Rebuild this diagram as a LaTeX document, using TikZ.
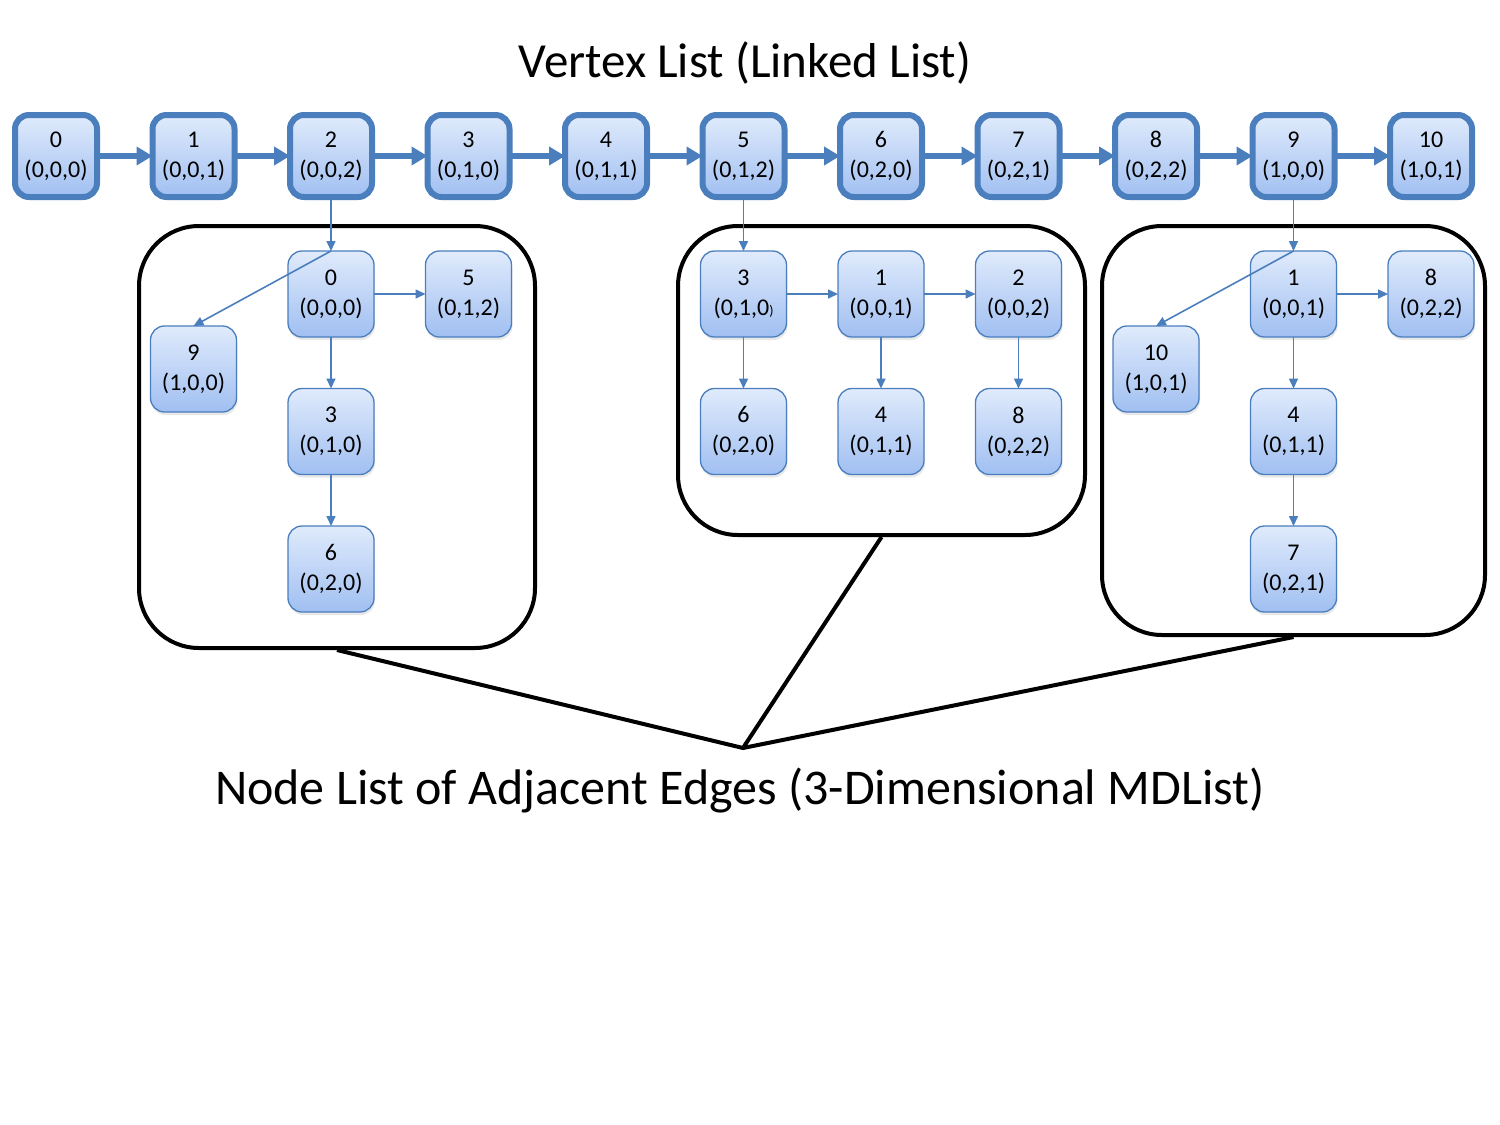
\documentclass[tikz,border=0pt]{standalone}
\usepackage{fontspec}
\setmainfont{Carlito}
\usetikzlibrary{positioning,arrows.meta,shadows}
\definecolor{bx1}{RGB}{224,235,252}
\definecolor{bx2}{RGB}{160,191,241}
\definecolor{ln1}{RGB}{74,126,189}

\begin{document}
\begin{tikzpicture}[
    x=1pt, y=-1pt,
    node distance=55.5pt,
    v/.style={
        rounded corners=14pt, minimum size=82pt, inner sep=0pt, outer sep=0pt,
        top color=bx1, bottom color=bx2, draw=ln1, line width=6pt,
        align=center, font=\fontsize{24}{30}\selectfont,
        drop shadow={opacity=0.18, shadow xshift=1pt, shadow yshift=-3pt}
    },
    e/.style={v, minimum size=86pt, line width=1.3pt},
    lk/.style={draw=ln1, line width=6pt, -{Triangle[length=16pt,width=18pt]}},
    l/.style={draw=ln1, line width=1.6pt, -{Triangle[length=10pt,width=9pt]}},
    b/.style={draw, line width=4pt, rounded corners=60pt, inner sep=0pt},
    j/.style={line width=4pt},
    txt/.style={font=\fontsize{49}{56}\selectfont}
]
\useasboundingbox (0,0) rectangle (1500,1125);

\node [txt] (top) at (745,63) {Vertex List (Linked List)};
\node [txt, font=\fontsize{50}{56}\selectfont] (bot) at (740,790) {Node List of Adjacent Edges (3-Dimensional MDList)};

% vertex list
\node [v] (v0) at (56,156) {0\\(0,0,0)};
\node [v,right=of v0] (v1) {1\\(0,0,1)};
\node [v,right=of v1] (v2) {2\\(0,0,2)};
\node [v,right=of v2] (v3) {3\\(0,1,0)};
\node [v,right=of v3] (v4) {4\\(0,1,1)};
\node [v,right=of v4] (v5) {5\\(0,1,2)};
\node [v,right=of v5] (v6) {6\\(0,2,0)};
\node [v,right=of v6] (v7) {7\\(0,2,1)};
\node [v,right=of v7] (v8) {8\\(0,2,2)};
\node [v,right=of v8] (v9) {9\\(1,0,0)};
\node [v,right=of v9] (v10) {10\\(1,0,1)};

\draw (v0) edge [lk] (v1);
\draw (v1) edge [lk] (v2);
\draw (v2) edge [lk] (v3);
\draw (v3) edge [lk] (v4);
\draw (v4) edge [lk] (v5);
\draw (v5) edge [lk] (v6);
\draw (v6) edge [lk] (v7);
\draw (v7) edge [lk] (v8);
\draw (v8) edge [lk] (v9);
\draw (v9) edge [lk] (v10);

% frames
\node [b, minimum width=396pt, minimum height=422pt] (A) at (337,437) {};
\node [b, minimum width=407pt, minimum height=309pt] (B) at (881.5,380.5) {};
\node [b, minimum width=383pt, minimum height=409pt] (C) at (1293.5,430.5) {};

% adjacency of 2
\node [e,below=54pt of v2] (a0) {0\\(0,0,0)};
\node [e,right=51.5pt of a0] (a5) {5\\(0,1,2)};
\node [e,left=51.5pt of a0,yshift=-75pt] (a9) {9\\(1,0,0)};
\node [e,below=51.5pt of a0] (a3) {3\\(0,1,0)};
\node [e,below=51.5pt of a3] (a6) {6\\(0,2,0)};

\draw (v2) edge [l] (a0);
\draw (a0.north) edge [l] (a9.north);
\draw (a0) edge [l] (a5);
\draw (a0) edge [l] (a3);
\draw (a3) edge [l] (a6);

% adjacency of 5
\node [e,below=54pt of v5] (b3) {3\\(0,1,0{\fontsize{14}{14}\selectfont)}};
\node [e,right=51.5pt of b3] (b1) {1\\(0,0,1)};
\node [e,right=51.5pt of b1] (b2) {2\\(0,0,2)};
\node [e,below=51.5pt of b3] (b6) {6\\(0,2,0)};
\node [e,below=51.5pt of b1] (b4) {4\\(0,1,1)};
\node [e,below=51.5pt of b2] (b8) {8\\(0,2,2)};

\draw (v5) edge [l] (b3);
\draw (b3) edge [l] (b1);
\draw (b1) edge [l] (b2);
\draw (b3) edge [l] (b6);
\draw (b1) edge [l] (b4);
\draw (b2) edge [l] (b8);

% adjacency of 9
\node [e,below=54pt of v9] (c1) {1\\(0,0,1)};
\node [e,right=51.5pt of c1] (c8) {8\\(0,2,2)};
\node [e,left=51.5pt of c1,yshift=-75pt] (c10) {10\\(1,0,1)};
\node [e,below=51.5pt of c1] (c4) {4\\(0,1,1)};
\node [e,below=51.5pt of c4] (c7) {7\\(0,2,1)};

\draw (v9) edge [l] (c1);
\draw (c1.north) edge [l] (c10.north);
\draw (c1) edge [l] (c8);
\draw (c1) edge [l] (c4);
\draw (c4) edge [l] (c7);

% callout lines
\coordinate (J) at (743,748);
\draw [j] (A.south) -- (J) -- (C.south);
\draw [j] (B.south) -- (J);

\end{tikzpicture}
\end{document}
